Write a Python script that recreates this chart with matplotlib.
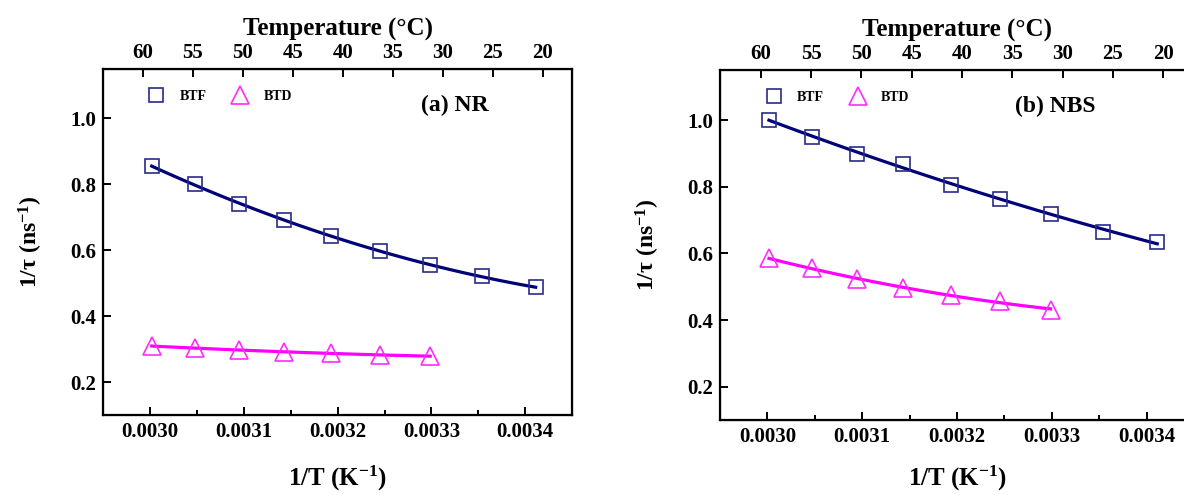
import numpy as np
import matplotlib.pyplot as plt

plt.rcParams['font.family'] = ['Liberation Serif', 'DejaVu Serif']
plt.rcParams['font.weight'] = 'bold'
plt.rcParams['axes.labelweight'] = 'bold'
plt.rcParams['mathtext.fontset'] = 'custom'
plt.rcParams['mathtext.rm'] = 'Liberation Serif:bold'
plt.rcParams['mathtext.default'] = 'regular'

# temperaturas (°C) das medidas
temp_btf = [60, 55, 50, 45, 40, 35, 30, 25, 20]
temp_btd = [60, 55, 50, 45, 40, 35, 30]
temp_ticks = [60, 55, 50, 45, 40, 35, 30, 25, 20]

# 1/tau (ns^-1)
nr_btf = [0.855, 0.800, 0.740, 0.693, 0.642, 0.598, 0.555, 0.521, 0.487]
nr_btd = [0.310, 0.302, 0.297, 0.292, 0.287, 0.283, 0.278]
nbs_btf = [1.000, 0.950, 0.898, 0.868, 0.806, 0.763, 0.719, 0.665, 0.633]
nbs_btd = [0.585, 0.555, 0.523, 0.496, 0.474, 0.456, 0.431]

panels = [
    ('(a) NR', nr_btf, nr_btd, [103.3, 69, 572, 415], (63.95, 17.05), 0.75, 16),
    ('(b) NBS', nbs_btf, nbs_btd, [720, 70, 1194, 420], (64.05, 16.95), 0.707, 12),
]

W, H = 1184, 495
fig = plt.figure(figsize=(W / 100, H / 100), dpi=100)

c_btf = '#2a2a8a'
c_btf_line = '#000078'
c_btd = '#ff2bff'
c_btd_line = '#ff00ff'


def inv_t(temps):
    return 1.0 / (np.array(temps, dtype=float) + 273.15)


def fit_curve(x, y):
    # ajuste quadratico so para desenhar a linha suave
    p = np.polyfit(x, y, 2)
    xs = np.linspace(x.min(), x.max(), 100)
    return xs, np.polyval(p, xs)


for title, btf, btd, box, top_lim, title_x, xpad in panels:
    x0, y0, x1, y1 = box
    ax = fig.add_axes([x0 / W, (H - y1) / H, (x1 - x0) / W, (y1 - y0) / H])

    xb = inv_t(temp_btf)
    xd = inv_t(temp_btd)

    xs, ys = fit_curve(xb, np.array(btf))
    ax.plot(xs, ys, color=c_btf_line, lw=2.3, zorder=2)
    xs, ys = fit_curve(xd, np.array(btd))
    ax.plot(xs, ys, color=c_btd_line, lw=2.3, zorder=2)

    ax.plot(xb, btf, ls='none', marker='s', ms=10.5, mfc='none', mec=c_btf,
            mew=1.2, label='BTF', zorder=3)
    ax.plot(xd, btd, ls='none', marker='^', ms=13, mfc='none', mec=c_btd,
            mew=1.2, label='BTD', zorder=3)

    ax.set_xlim(0.00295, 0.00345)
    ax.set_ylim(0.1, 1.15)
    ax.set_xticks([0.0030, 0.0031, 0.0032, 0.0033, 0.0034])
    ax.set_xticks(np.arange(0.00305, 0.00345, 0.0001), minor=True)
    ax.set_xticklabels(['0.0030', '0.0031', '0.0032', '0.0033', '0.0034'])
    ax.set_yticks([0.2, 0.4, 0.6, 0.8, 1.0])
    ax.tick_params(axis='both', which='major', direction='in', length=6,
                   width=1.4, labelsize=15, pad=5)
    ax.tick_params(axis='x', which='minor', direction='in', length=3.5, width=1.4)
    for s in ax.spines.values():
        s.set_linewidth(1.6)

    ax.set_xlabel('1/T (K$^{-1}$)', fontsize=18, labelpad=xpad)
    ax.set_ylabel('1/\u03c4 (ns$^{-1}$)', fontsize=17, labelpad=18)

    ax.text(title_x, 0.895, title, transform=ax.transAxes, fontsize=17,
            ha='center', va='center')

    ax.legend(loc='upper left', bbox_to_anchor=(0.072, 0.975), ncol=2,
              frameon=False, fontsize=10, handlelength=1.0, handletextpad=1.2,
              columnspacing=1.9, numpoints=1)

    # eixo superior em temperatura
    top = ax.twiny()
    top.set_xlim(top_lim)
    top.set_xticks(temp_ticks)
    top.tick_params(axis='x', direction='in', length=6, width=1.4,
                    labelsize=15, pad=4)
    top.set_xlabel('Temperature (\u00b0C)', fontsize=18, labelpad=6)

fig.savefig('out.png', dpi=100)
